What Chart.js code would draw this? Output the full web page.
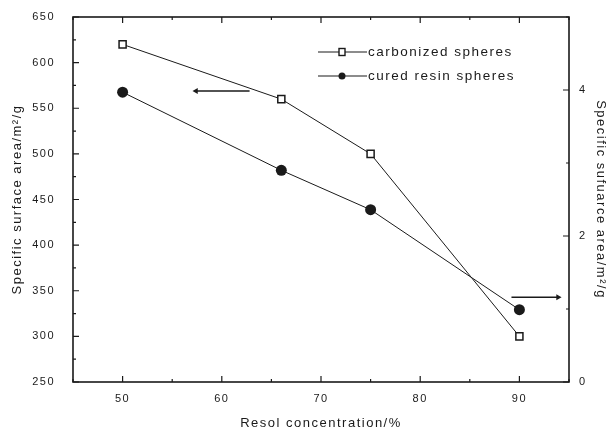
<!DOCTYPE html>
<html>
<head>
<meta charset="utf-8">
<script src="https://cdn.jsdelivr.net/npm/chart.js@4.4.1/dist/chart.umd.min.js"></script>
<style>
  html, body { margin: 0; padding: 0; background: #fff; }
  #wrap { width: 613px; height: 433px; position: relative; }
</style>
</head>
<body>
<div id="wrap"><canvas id="c" width="613" height="433"></canvas></div>
<script>
// ---- data ----
const concentrations = [50, 66, 75, 90];
const carbonizedArea = [620, 560, 500, 300];      // left axis, m2/g
const curedResinArea = [3.97, 2.9, 2.36, 0.99];   // right axis, m2/g
const seriesNames = ['carbonized spheres', 'cured resin spheres'];
// arrows pointing to the axis each series belongs to
const arrowLeftX = [62.8, 57.4];
const arrowLeftY = [569, 569];
const arrowRightX = [89.2, 93.9];
const arrowRightY = [1.16, 1.16];

const xTitle = 'Resol concentration/%';
const yLeftTitle = 'Specific surface area/m\u00B2/g';
const yRightTitle = 'Specific sufuarce area/m\u00B2/g';

const FONT = "'Liberation Sans', Arial, sans-serif";
const INK = '#1a1a1a';

function pts(xs, ys) { return xs.map((x, i) => ({ x: x, y: ys[i] })); }

const spacingPlugin = {
  id: 'spacing',
  beforeUpdate(chart) { chart.ctx.letterSpacing = '1.5px'; },
  afterLayout(chart) { chart.ctx.letterSpacing = '1.5px'; },
  beforeDraw(chart) { chart.ctx.letterSpacing = '1.5px'; }
};

const framePlugin = {
  id: 'frame',
  afterDatasetsDraw(chart) {
    const ctx = chart.ctx, a = chart.chartArea;
    ctx.save();
    ctx.strokeStyle = INK;
    ctx.lineWidth = 1.6;
    ctx.strokeRect(a.left, a.top, a.right - a.left, a.bottom - a.top);
    ctx.lineWidth = 1.2;
    const drawTicks = (scale, fn) => {
      scale.ticks.forEach(t => {
        const p = scale.getPixelForValue(t.value);
        const major = t.label !== '' && t.label !== undefined;
        fn(p, major ? 6 : 3);
      });
    };
    ctx.beginPath();
    drawTicks(chart.scales.x, (p, len) => {
      ctx.moveTo(p, a.bottom); ctx.lineTo(p, a.bottom - len);
      ctx.moveTo(p, a.top); ctx.lineTo(p, a.top + len);
    });
    drawTicks(chart.scales.y, (p, len) => {
      ctx.moveTo(a.left, p); ctx.lineTo(a.left + len, p);
    });
    drawTicks(chart.scales.y2, (p, len) => {
      ctx.moveTo(a.right, p); ctx.lineTo(a.right - len, p);
    });
    ctx.stroke();

    // legend
    const lx = a.left + 245, tx = a.left + 295;
    const rows = [a.top + 35, a.top + 59];
    ctx.font = "13.5px " + FONT;
    ctx.fillStyle = INK;
    ctx.textBaseline = 'middle';
    ctx.textAlign = 'left';
    rows.forEach((ry, i) => {
      ctx.beginPath();
      ctx.lineWidth = 1.2;
      ctx.moveTo(lx, ry); ctx.lineTo(lx + 49, ry);
      ctx.stroke();
      const mx = lx + 24;
      if (i === 0) {
        ctx.fillStyle = '#fff';
        ctx.fillRect(mx - 3, ry - 3.5, 6, 7);
        ctx.lineWidth = 1.4;
        ctx.strokeRect(mx - 3, ry - 3.5, 6, 7);
      } else {
        ctx.fillStyle = INK;
        ctx.beginPath(); ctx.arc(mx, ry, 3.5, 0, Math.PI * 2); ctx.fill();
      }
      ctx.fillStyle = INK;
      ctx.fillText(seriesNames[i], tx, ry);
    });
    ctx.restore();
  }
};

const tickFont = { family: FONT, size: 11 };
const titleFont = { family: FONT, size: 13 };

new Chart(document.getElementById('c'), {
  type: 'line',
  data: {
    datasets: [
      {
        label: seriesNames[0], data: pts(concentrations, carbonizedArea), yAxisID: 'y',
        borderColor: INK, borderWidth: 1, pointStyle: 'rect', pointRadius: 5,
        pointBackgroundColor: '#fff', pointBorderColor: INK, pointBorderWidth: 1.5, tension: 0
      },
      {
        label: seriesNames[1], data: pts(concentrations, curedResinArea), yAxisID: 'y2',
        borderColor: INK, borderWidth: 1, pointStyle: 'circle', pointRadius: 5.5,
        pointBackgroundColor: INK, pointBorderColor: INK, pointBorderWidth: 0, tension: 0
      },
      {
        label: 'arrowL', data: pts(arrowLeftX, arrowLeftY), yAxisID: 'y',
        borderColor: INK, borderWidth: 1.5,
        pointStyle: ['line', 'triangle'], pointRadius: [0, 3.5], pointRotation: [0, -90],
        pointBackgroundColor: INK, pointBorderColor: INK, pointBorderWidth: 0
      },
      {
        label: 'arrowR', data: pts(arrowRightX, arrowRightY), yAxisID: 'y2',
        borderColor: INK, borderWidth: 1.5,
        pointStyle: ['line', 'triangle'], pointRadius: [0, 3.5], pointRotation: [0, 90],
        pointBackgroundColor: INK, pointBorderColor: INK, pointBorderWidth: 0
      }
    ]
  },
  options: {
    responsive: false,
    animation: false,
    events: [],
    layout: { padding: { top: 17, right: 0, left: 0, bottom: 0 } },
    plugins: { legend: { display: false }, tooltip: { enabled: false } },
    scales: {
      x: {
        type: 'linear', min: 45, max: 95,
        grid: { display: false }, border: { display: false },
        ticks: {
          stepSize: 5, color: INK, font: tickFont, padding: 2, maxRotation: 0,
          callback: v => (v % 10 === 0 ? String(v) : '')
        },
        title: { display: true, text: xTitle, color: INK, font: titleFont, padding: { top: 10, bottom: 2 } },
        afterFit: s => { s.height = 51; }
      },
      y: {
        type: 'linear', position: 'left', min: 250, max: 650,
        grid: { display: false }, border: { display: false },
        ticks: {
          stepSize: 25, color: INK, font: tickFont, padding: 10,
          callback: v => (v % 50 === 0 ? String(v) : '')
        },
        title: { display: true, text: yLeftTitle, color: INK, font: titleFont, padding: { top: 10, bottom: 0 } },
        afterFit: s => { s.width = 73; }
      },
      y2: {
        type: 'linear', position: 'right', min: 0, max: 5,
        grid: { display: false }, border: { display: false },
        ticks: {
          stepSize: 1, color: INK, font: tickFont, padding: 2,
          callback: v => (v % 2 === 0 ? String(v) : '')
        },
        title: { display: true, text: yRightTitle, color: INK, font: titleFont, padding: { top: 5, bottom: 0 } },
        afterFit: s => { s.width = 44; }
      }
    }
  },
  plugins: [spacingPlugin, framePlugin]
});
</script>
</body>
</html>
